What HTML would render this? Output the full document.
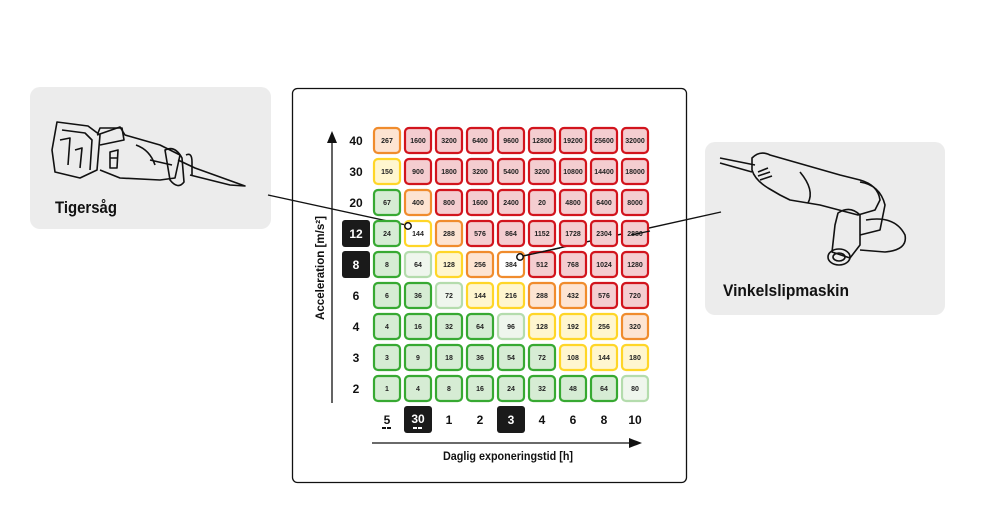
<!DOCTYPE html>
<html><head><meta charset="utf-8"><style>
body{margin:0;background:#fff;}
svg{display:block;font-family:"Liberation Sans Narrow","Liberation Sans",sans-serif;}
.c{font-size:7px;font-weight:bold;text-anchor:middle;fill:#222;}
.l{font-size:12px;font-weight:bold;text-anchor:middle;fill:#111;}
.R{stroke:#d2141d;fill:#f4cdd0}.O{stroke:#f08c2d;fill:#fde4d2}.Y{stroke:#ffd628;fill:#fff6cf}
.G{stroke:#37a932;fill:#d6ecd4}.L{stroke:#b4dcad;fill:#eff6ed}.W{stroke:#ffd628;fill:#fff}.WO{stroke:#f08c2d;fill:#fff}
rect.cell{stroke-width:2.2}
</style></head><body>
<svg width="982" height="511" viewBox="0 0 982 511">
<rect x="30" y="87" width="241" height="142" rx="10" fill="#ececec"/>
<rect x="705" y="142" width="240" height="173" rx="10" fill="#ececec"/>
<text x="55" y="213" font-size="17" font-weight="bold" fill="#111" textLength="62" lengthAdjust="spacingAndGlyphs">Tigersåg</text>
<text x="723" y="296" font-size="17" font-weight="bold" fill="#111" textLength="126" lengthAdjust="spacingAndGlyphs">Vinkelslipmaskin</text>
<!-- saw -->
<g fill="none" stroke="#111" stroke-width="1.6" stroke-linejoin="round">
<path d="M57 122 L88 126 L100 135 L97 170 L80 178 L55 172 L52 150 Z"/>
<path d="M62 130 L85 133 L92 140 L90 170"/>
<path d="M60 140 L70 138 L68 165 M75 150 L82 148 L80 168"/>
<path d="M97 135 L120 127 L125 135 L160 145 L170 150 L180 155 L175 178 L160 180 L120 178 L100 170"/>
<path d="M98 133 L100 128 L122 128 L124 140 L100 145"/>
<path d="M110 152 L118 150 L117 168 L110 168 Z M110 158 L118 158"/>
<path d="M136 145 Q150 150 155 165"/>
<path d="M165 150 Q175 145 182 158 L184 182 Q178 190 170 180 Z"/>
<path d="M178 160 L195 168 L245 186 L230 185 L190 175"/>
<path d="M186 155 Q192 152 192 162 L192 175"/>
<path d="M150 160 L172 165"/>
</g>
<!-- grinder -->
<g fill="none" stroke="#111" stroke-width="1.6" stroke-linejoin="round">
<path d="M720 158 L755 165 M720 163 L752 172"/>
<path d="M752 158 Q760 150 770 155 L840 175 L860 180 Q878 185 880 200 L875 210 L858 215 L820 205 L790 200 L780 195 L768 188 Q755 180 752 170 Z"/>
<path d="M800 172 Q815 190 808 203"/>
<path d="M860 182 Q880 185 885 205 L880 230 L860 235"/>
<path d="M866 220 Q895 215 905 235 Q908 250 885 252 L860 250"/>
<path d="M838 213 Q850 205 860 215 L860 245 L850 258 L832 252 L835 225 Z"/>
<ellipse cx="839" cy="257" rx="11" ry="8"/>
<ellipse cx="839" cy="257" rx="6" ry="4"/>
<path d="M758 172 L768 168 M758 176 L770 172 M760 180 L772 176"/>
</g>
<!-- frame -->
<rect x="292.5" y="88.5" width="394" height="394" rx="5" fill="#fff" stroke="#111" stroke-width="1.3"/>
<!-- connectors -->
<line x1="268" y1="195" x2="406" y2="225" stroke="#111" stroke-width="1.4"/>
<line x1="721" y1="212" x2="523" y2="256" stroke="#111" stroke-width="1.4"/>
<!-- y axis -->
<line x1="332" y1="140" x2="332" y2="403" stroke="#111" stroke-width="1.3"/>
<polygon points="332,131 327,143 337,143" fill="#111"/>
<text transform="translate(324,268) rotate(-90)" font-size="12" font-weight="bold" text-anchor="middle" fill="#111" textLength="104" lengthAdjust="spacingAndGlyphs">Acceleration [m/s²]</text>
<!-- x axis -->
<line x1="372" y1="443" x2="632" y2="443" stroke="#111" stroke-width="1.3"/>
<polygon points="642,443 629,438 629,448" fill="#111"/>
<text x="508" y="460" font-size="12" font-weight="bold" text-anchor="middle" fill="#111" textLength="130" lengthAdjust="spacingAndGlyphs">Daglig exponeringstid [h]</text>
<!-- row labels -->
<text class="l" x="356" y="145">40</text>
<text class="l" x="356" y="176">30</text>
<text class="l" x="356" y="207">20</text>
<rect x="342" y="220" width="28" height="27" rx="3" fill="#1a1a1a"/><text class="l" x="356" y="238" style="fill:#fff">12</text>
<rect x="342" y="251" width="28" height="27" rx="3" fill="#1a1a1a"/><text class="l" x="356" y="269" style="fill:#fff">8</text>
<text class="l" x="356" y="300">6</text>
<text class="l" x="356" y="331">4</text>
<text class="l" x="356" y="362">3</text>
<text class="l" x="356" y="393">2</text>
<!-- col labels -->
<text class="l" x="387" y="424">5</text><rect x="382" y="427" width="4" height="2" fill="#111"/><rect x="387" y="427" width="4" height="2" fill="#111"/>
<rect x="404" y="406" width="28" height="27" rx="3" fill="#1a1a1a"/><text class="l" x="418" y="423" style="fill:#fff">30</text><rect x="413" y="427" width="4" height="2" fill="#fff"/><rect x="418" y="427" width="4" height="2" fill="#fff"/>
<text class="l" x="449" y="424">1</text>
<text class="l" x="480" y="424">2</text>
<rect x="497" y="406" width="28" height="27" rx="3" fill="#1a1a1a"/><text class="l" x="511" y="424" style="fill:#fff">3</text>
<text class="l" x="542" y="424">4</text>
<text class="l" x="573" y="424">6</text>
<text class="l" x="604" y="424">8</text>
<text class="l" x="635" y="424">10</text>
<!-- cells -->
<g id="grid">
<rect class="cell O" x="374" y="128" width="26" height="25" rx="4"/><text class="c" x="387" y="143">267</text>
<rect class="cell R" x="405" y="128" width="26" height="25" rx="4"/><text class="c" x="418" y="143">1600</text>
<rect class="cell R" x="436" y="128" width="26" height="25" rx="4"/><text class="c" x="449" y="143">3200</text>
<rect class="cell R" x="467" y="128" width="26" height="25" rx="4"/><text class="c" x="480" y="143">6400</text>
<rect class="cell R" x="498" y="128" width="26" height="25" rx="4"/><text class="c" x="511" y="143">9600</text>
<rect class="cell R" x="529" y="128" width="26" height="25" rx="4"/><text class="c" x="542" y="143">12800</text>
<rect class="cell R" x="560" y="128" width="26" height="25" rx="4"/><text class="c" x="573" y="143">19200</text>
<rect class="cell R" x="591" y="128" width="26" height="25" rx="4"/><text class="c" x="604" y="143">25600</text>
<rect class="cell R" x="622" y="128" width="26" height="25" rx="4"/><text class="c" x="635" y="143">32000</text>
<rect class="cell Y" x="374" y="159" width="26" height="25" rx="4"/><text class="c" x="387" y="174">150</text>
<rect class="cell R" x="405" y="159" width="26" height="25" rx="4"/><text class="c" x="418" y="174">900</text>
<rect class="cell R" x="436" y="159" width="26" height="25" rx="4"/><text class="c" x="449" y="174">1800</text>
<rect class="cell R" x="467" y="159" width="26" height="25" rx="4"/><text class="c" x="480" y="174">3200</text>
<rect class="cell R" x="498" y="159" width="26" height="25" rx="4"/><text class="c" x="511" y="174">5400</text>
<rect class="cell R" x="529" y="159" width="26" height="25" rx="4"/><text class="c" x="542" y="174">3200</text>
<rect class="cell R" x="560" y="159" width="26" height="25" rx="4"/><text class="c" x="573" y="174">10800</text>
<rect class="cell R" x="591" y="159" width="26" height="25" rx="4"/><text class="c" x="604" y="174">14400</text>
<rect class="cell R" x="622" y="159" width="26" height="25" rx="4"/><text class="c" x="635" y="174">18000</text>
<rect class="cell G" x="374" y="190" width="26" height="25" rx="4"/><text class="c" x="387" y="205">67</text>
<rect class="cell O" x="405" y="190" width="26" height="25" rx="4"/><text class="c" x="418" y="205">400</text>
<rect class="cell R" x="436" y="190" width="26" height="25" rx="4"/><text class="c" x="449" y="205">800</text>
<rect class="cell R" x="467" y="190" width="26" height="25" rx="4"/><text class="c" x="480" y="205">1600</text>
<rect class="cell R" x="498" y="190" width="26" height="25" rx="4"/><text class="c" x="511" y="205">2400</text>
<rect class="cell R" x="529" y="190" width="26" height="25" rx="4"/><text class="c" x="542" y="205">20</text>
<rect class="cell R" x="560" y="190" width="26" height="25" rx="4"/><text class="c" x="573" y="205">4800</text>
<rect class="cell R" x="591" y="190" width="26" height="25" rx="4"/><text class="c" x="604" y="205">6400</text>
<rect class="cell R" x="622" y="190" width="26" height="25" rx="4"/><text class="c" x="635" y="205">8000</text>
<rect class="cell G" x="374" y="221" width="26" height="25" rx="4"/><text class="c" x="387" y="236">24</text>
<rect class="cell W" x="405" y="221" width="26" height="25" rx="4"/><text class="c" x="418" y="236">144</text>
<rect class="cell O" x="436" y="221" width="26" height="25" rx="4"/><text class="c" x="449" y="236">288</text>
<rect class="cell R" x="467" y="221" width="26" height="25" rx="4"/><text class="c" x="480" y="236">576</text>
<rect class="cell R" x="498" y="221" width="26" height="25" rx="4"/><text class="c" x="511" y="236">864</text>
<rect class="cell R" x="529" y="221" width="26" height="25" rx="4"/><text class="c" x="542" y="236">1152</text>
<rect class="cell R" x="560" y="221" width="26" height="25" rx="4"/><text class="c" x="573" y="236">1728</text>
<rect class="cell R" x="591" y="221" width="26" height="25" rx="4"/><text class="c" x="604" y="236">2304</text>
<rect class="cell R" x="622" y="221" width="26" height="25" rx="4"/><text class="c" x="635" y="236">2880</text>
<rect class="cell G" x="374" y="252" width="26" height="25" rx="4"/><text class="c" x="387" y="267">8</text>
<rect class="cell L" x="405" y="252" width="26" height="25" rx="4"/><text class="c" x="418" y="267">64</text>
<rect class="cell Y" x="436" y="252" width="26" height="25" rx="4"/><text class="c" x="449" y="267">128</text>
<rect class="cell O" x="467" y="252" width="26" height="25" rx="4"/><text class="c" x="480" y="267">256</text>
<rect class="cell WO" x="498" y="252" width="26" height="25" rx="4"/><text class="c" x="511" y="267">384</text>
<rect class="cell R" x="529" y="252" width="26" height="25" rx="4"/><text class="c" x="542" y="267">512</text>
<rect class="cell R" x="560" y="252" width="26" height="25" rx="4"/><text class="c" x="573" y="267">768</text>
<rect class="cell R" x="591" y="252" width="26" height="25" rx="4"/><text class="c" x="604" y="267">1024</text>
<rect class="cell R" x="622" y="252" width="26" height="25" rx="4"/><text class="c" x="635" y="267">1280</text>
<rect class="cell G" x="374" y="283" width="26" height="25" rx="4"/><text class="c" x="387" y="298">6</text>
<rect class="cell G" x="405" y="283" width="26" height="25" rx="4"/><text class="c" x="418" y="298">36</text>
<rect class="cell L" x="436" y="283" width="26" height="25" rx="4"/><text class="c" x="449" y="298">72</text>
<rect class="cell Y" x="467" y="283" width="26" height="25" rx="4"/><text class="c" x="480" y="298">144</text>
<rect class="cell Y" x="498" y="283" width="26" height="25" rx="4"/><text class="c" x="511" y="298">216</text>
<rect class="cell O" x="529" y="283" width="26" height="25" rx="4"/><text class="c" x="542" y="298">288</text>
<rect class="cell O" x="560" y="283" width="26" height="25" rx="4"/><text class="c" x="573" y="298">432</text>
<rect class="cell R" x="591" y="283" width="26" height="25" rx="4"/><text class="c" x="604" y="298">576</text>
<rect class="cell R" x="622" y="283" width="26" height="25" rx="4"/><text class="c" x="635" y="298">720</text>
<rect class="cell G" x="374" y="314" width="26" height="25" rx="4"/><text class="c" x="387" y="329">4</text>
<rect class="cell G" x="405" y="314" width="26" height="25" rx="4"/><text class="c" x="418" y="329">16</text>
<rect class="cell G" x="436" y="314" width="26" height="25" rx="4"/><text class="c" x="449" y="329">32</text>
<rect class="cell G" x="467" y="314" width="26" height="25" rx="4"/><text class="c" x="480" y="329">64</text>
<rect class="cell L" x="498" y="314" width="26" height="25" rx="4"/><text class="c" x="511" y="329">96</text>
<rect class="cell Y" x="529" y="314" width="26" height="25" rx="4"/><text class="c" x="542" y="329">128</text>
<rect class="cell Y" x="560" y="314" width="26" height="25" rx="4"/><text class="c" x="573" y="329">192</text>
<rect class="cell Y" x="591" y="314" width="26" height="25" rx="4"/><text class="c" x="604" y="329">256</text>
<rect class="cell O" x="622" y="314" width="26" height="25" rx="4"/><text class="c" x="635" y="329">320</text>
<rect class="cell G" x="374" y="345" width="26" height="25" rx="4"/><text class="c" x="387" y="360">3</text>
<rect class="cell G" x="405" y="345" width="26" height="25" rx="4"/><text class="c" x="418" y="360">9</text>
<rect class="cell G" x="436" y="345" width="26" height="25" rx="4"/><text class="c" x="449" y="360">18</text>
<rect class="cell G" x="467" y="345" width="26" height="25" rx="4"/><text class="c" x="480" y="360">36</text>
<rect class="cell G" x="498" y="345" width="26" height="25" rx="4"/><text class="c" x="511" y="360">54</text>
<rect class="cell G" x="529" y="345" width="26" height="25" rx="4"/><text class="c" x="542" y="360">72</text>
<rect class="cell Y" x="560" y="345" width="26" height="25" rx="4"/><text class="c" x="573" y="360">108</text>
<rect class="cell Y" x="591" y="345" width="26" height="25" rx="4"/><text class="c" x="604" y="360">144</text>
<rect class="cell Y" x="622" y="345" width="26" height="25" rx="4"/><text class="c" x="635" y="360">180</text>
<rect class="cell G" x="374" y="376" width="26" height="25" rx="4"/><text class="c" x="387" y="391">1</text>
<rect class="cell G" x="405" y="376" width="26" height="25" rx="4"/><text class="c" x="418" y="391">4</text>
<rect class="cell G" x="436" y="376" width="26" height="25" rx="4"/><text class="c" x="449" y="391">8</text>
<rect class="cell G" x="467" y="376" width="26" height="25" rx="4"/><text class="c" x="480" y="391">16</text>
<rect class="cell G" x="498" y="376" width="26" height="25" rx="4"/><text class="c" x="511" y="391">24</text>
<rect class="cell G" x="529" y="376" width="26" height="25" rx="4"/><text class="c" x="542" y="391">32</text>
<rect class="cell G" x="560" y="376" width="26" height="25" rx="4"/><text class="c" x="573" y="391">48</text>
<rect class="cell G" x="591" y="376" width="26" height="25" rx="4"/><text class="c" x="604" y="391">64</text>
<rect class="cell L" x="622" y="376" width="26" height="25" rx="4"/><text class="c" x="635" y="391">80</text>
</g>
<line x1="631" y1="235" x2="650" y2="231" stroke="#111" stroke-width="1.4"/>
<line x1="523" y1="256" x2="560" y2="248" stroke="#111" stroke-width="1.4"/>
<circle cx="408" cy="226" r="3.2" fill="#fff" stroke="#111" stroke-width="1.5"/>
<circle cx="520" cy="257" r="3.2" fill="#fff" stroke="#111" stroke-width="1.5"/>
</svg>
</body></html>
